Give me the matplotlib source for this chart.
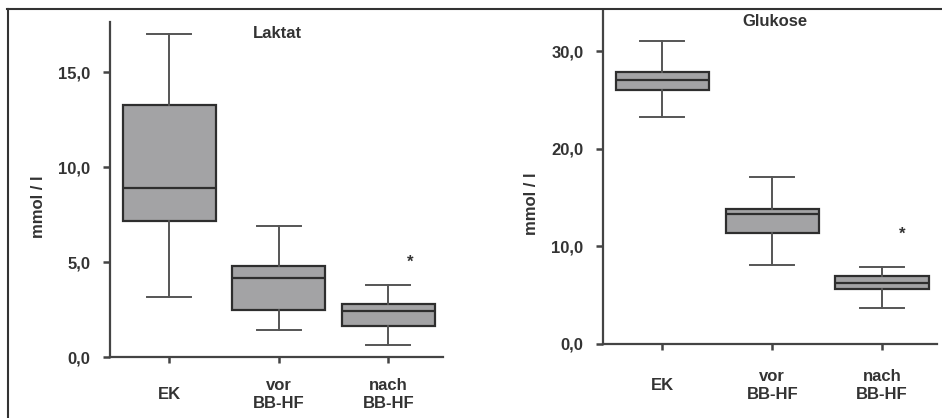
import matplotlib
matplotlib.use('Agg')
import matplotlib.pyplot as plt
from matplotlib.lines import Line2D

plt.rcParams['font.family'] = ['Liberation Sans', 'DejaVu Sans']
plt.rcParams['font.weight'] = 'bold'
plt.rcParams['axes.labelweight'] = 'bold'

groups = ['EK', 'vor\nBB-HF', 'nach\nBB-HF']

# box stats per group: lower whisker, Q1, median, Q3, upper whisker
laktat_low = [3.15, 1.44, 0.63]
laktat_q1 = [7.16, 2.48, 1.63]
laktat_med = [8.9, 4.18, 2.41]
laktat_q3 = [13.3, 4.8, 2.81]
laktat_high = [17.0, 6.9, 3.79]
laktat_star = (3.2, 5.0)

glukose_low = [23.2, 8.08, 3.68]
glukose_q1 = [26.0, 11.36, 5.63]
glukose_med = [27.0, 13.27, 6.24]
glukose_q3 = [27.9, 13.8, 6.92]
glukose_high = [31.0, 17.15, 7.9]
glukose_star = (3.18, 11.2)

TXT = '#333333'
FILL = '#a3a3a5'
EDGE = '#2e2e2e'
WHIS = '#555555'


def make_stats(low, q1, med, q3, high):
    return [dict(whislo=a, q1=b, med=c, q3=d, whishi=e, fliers=[])
            for a, b, c, d, e in zip(low, q1, med, q3, high)]


def draw_panel(ax, stats, star, ylim, yticks, title, title_pos, xpad):
    ax.bxp(stats, positions=[1, 2, 3], widths=0.85, patch_artist=True,
           showfliers=False,
           boxprops=dict(facecolor=FILL, edgecolor=EDGE, linewidth=1.6),
           medianprops=dict(color=EDGE, linewidth=1.6),
           whiskerprops=dict(color=WHIS, linewidth=1.4),
           capprops=dict(color=WHIS, linewidth=1.4),
           capwidths=0.4)
    ax.text(star[0], star[1], '*', ha='center', va='center', fontsize=12,
            color=TXT)
    ax.set_xlim(0.46, 3.5)
    ax.set_ylim(*ylim)
    ax.set_yticks(yticks)
    ax.set_yticklabels([f'{v:.1f}'.replace('.', ',') for v in yticks])
    ax.set_xticks([1, 2, 3])
    ax.set_xticklabels(groups, va='center', linespacing=1.2)
    ax.tick_params(axis='x', length=4, width=1.8, color='#444444', pad=xpad,
                   labelsize=12, labelcolor=TXT)
    ax.tick_params(axis='y', length=5, width=1.8, color='#444444',
                   pad=9, labelsize=12, labelcolor=TXT)
    for s in ['top', 'right']:
        ax.spines[s].set_visible(False)
    for s in ['left', 'bottom']:
        ax.spines[s].set_color('#444444')
        ax.spines[s].set_linewidth(1.6)
    ax.set_ylabel('mmol / l', fontsize=12, color=TXT)
    ax.text(*title_pos, title, transform=ax.transAxes, ha='center',
            va='center', fontsize=12, color=TXT)


fig = plt.figure(figsize=(9.42, 4.18), dpi=100)
W, H = 942, 418

ax1 = fig.add_axes([110 / W, 1 - 357 / H, (443 - 110) / W, (357 - 22) / H])
draw_panel(ax1, make_stats(laktat_low, laktat_q1, laktat_med, laktat_q3, laktat_high),
           laktat_star, (0, 17.65), [0, 5, 10, 15], 'Laktat',
           ((277 - 110) / 333, 1 - 11 / 335), 23)
ax1.yaxis.set_label_coords(-64 / 333, 0.448)

ax2 = fig.add_axes([603 / W, 1 - 344 / H, (937 - 603) / W, (344 - 11) / H])
draw_panel(ax2, make_stats(glukose_low, glukose_q1, glukose_med, glukose_q3, glukose_high),
           glukose_star, (0, 34.1), [0, 10, 20, 30], 'Glukose',
           ((775 - 603) / 334, 1 - 11 / 333), 26)
ax2.yaxis.set_label_coords(-64 / 334, 0.42)

# outer frame lines (top and left)
fig.add_artist(Line2D([7 / W, 1], [1 - 8.5 / H, 1 - 8.5 / H],
                      transform=fig.transFigure, color='#333333', lw=1.5))
fig.add_artist(Line2D([7.5 / W, 7.5 / W], [0, 1 - 8.5 / H],
                      transform=fig.transFigure, color='#333333', lw=1.5))

fig.savefig('out.png', dpi=100)
